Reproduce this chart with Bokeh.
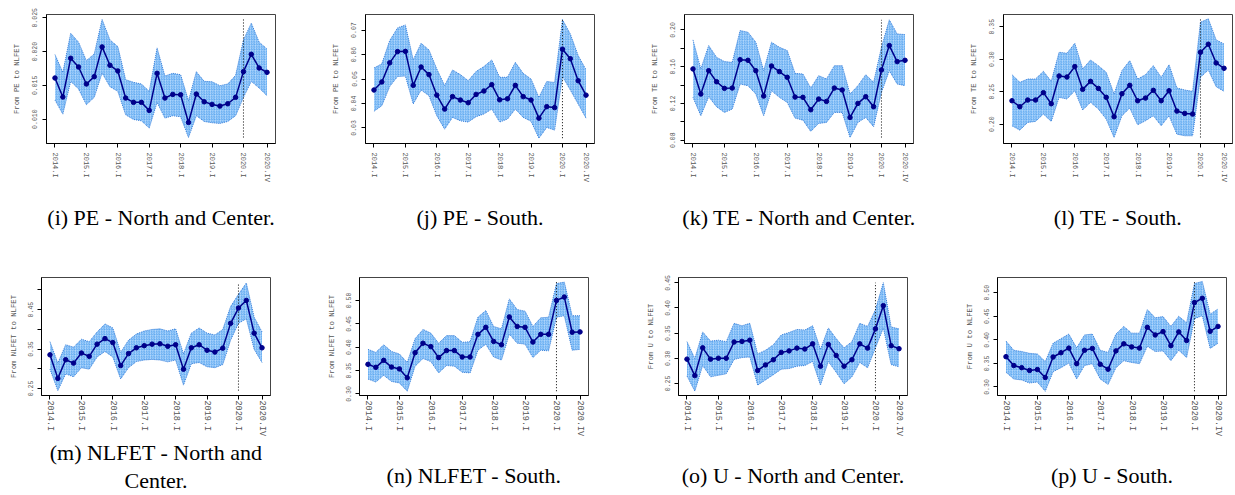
from bokeh.plotting import figure
from bokeh.layouts import column, row
from bokeh.models import FixedTicker, Range1d
from bokeh.embed import file_html
from bokeh.resources import INLINE

# ---------------- data ----------------
quarters = [f"{y}.{q}" for y in range(2014, 2021) for q in ["I", "II", "III", "IV"]]
xtick_labels = ["2014.I", "2015.I", "2016.I", "2017.I", "2018.I", "2019.I", "2020.I", "2020.IV"]
break_quarter = "2020.I"

pe_nc_est = [0.01609, 0.01327, 0.01901, 0.01772, 0.01520, 0.01629, 0.02069, 0.01797, 0.01713, 0.01312, 0.01248, 0.01248, 0.01129, 0.01678, 0.01312, 0.01366, 0.01361, 0.00951, 0.01371, 0.01257, 0.01218, 0.01193, 0.01228, 0.01322, 0.01703, 0.01960, 0.01757, 0.01693]
pe_nc_hi = [0.01955, 0.01693, 0.02272, 0.02139, 0.01866, 0.01965, 0.02475, 0.02173, 0.02074, 0.01584, 0.01545, 0.01520, 0.01411, 0.02054, 0.01639, 0.01678, 0.01658, 0.01272, 0.01703, 0.01559, 0.01554, 0.01495, 0.01520, 0.01649, 0.02173, 0.02421, 0.02139, 0.02040]
pe_nc_lo = [0.01282, 0.01074, 0.01559, 0.01446, 0.01213, 0.01322, 0.01683, 0.01480, 0.01411, 0.01064, 0.00995, 0.00975, 0.00867, 0.01248, 0.01015, 0.01050, 0.01035, 0.00728, 0.01050, 0.00965, 0.00946, 0.00936, 0.00965, 0.01050, 0.01322, 0.01559, 0.01460, 0.01347]

pe_s_est = [0.0455, 0.0488, 0.0566, 0.0612, 0.0613, 0.0474, 0.0549, 0.0518, 0.0434, 0.0377, 0.0428, 0.0414, 0.0403, 0.0437, 0.0451, 0.0477, 0.0415, 0.0419, 0.0474, 0.0428, 0.0414, 0.0340, 0.0387, 0.0383, 0.0622, 0.0583, 0.0493, 0.0434]
pe_s_hi = [0.0545, 0.0562, 0.0657, 0.0709, 0.0721, 0.0578, 0.0646, 0.0619, 0.0541, 0.0473, 0.0537, 0.0518, 0.0493, 0.0531, 0.0551, 0.0578, 0.0507, 0.0507, 0.0568, 0.0523, 0.0500, 0.0425, 0.0490, 0.0486, 0.0743, 0.0684, 0.0596, 0.0538]
pe_s_lo = [0.0368, 0.0391, 0.0469, 0.0510, 0.0512, 0.0398, 0.0455, 0.0432, 0.0350, 0.0295, 0.0343, 0.0329, 0.0324, 0.0346, 0.0357, 0.0377, 0.0324, 0.0336, 0.0377, 0.0343, 0.0327, 0.0258, 0.0302, 0.0291, 0.0510, 0.0455, 0.0398, 0.0340]

te_nc_est = [0.1575, 0.1302, 0.1556, 0.1436, 0.1364, 0.1367, 0.1676, 0.1669, 0.1556, 0.1280, 0.1607, 0.1546, 0.1484, 0.1269, 0.1266, 0.1131, 0.1247, 0.1222, 0.1367, 0.1346, 0.1047, 0.1200, 0.1273, 0.1164, 0.1564, 0.1829, 0.1655, 0.1669]
te_nc_hi = [0.1891, 0.1575, 0.1829, 0.1702, 0.1655, 0.1647, 0.1993, 0.1975, 0.1866, 0.1556, 0.1866, 0.1811, 0.1775, 0.1527, 0.1520, 0.1367, 0.1502, 0.1466, 0.1611, 0.1611, 0.1302, 0.1393, 0.1513, 0.1429, 0.1811, 0.2109, 0.1956, 0.1949]
te_nc_lo = [0.1266, 0.1066, 0.1273, 0.1164, 0.1102, 0.1138, 0.1411, 0.1393, 0.1302, 0.1066, 0.1338, 0.1266, 0.1211, 0.1040, 0.1018, 0.0895, 0.0982, 0.0993, 0.1102, 0.1102, 0.0829, 0.0993, 0.1047, 0.0946, 0.1320, 0.1556, 0.1411, 0.1393]

te_s_est = [0.2361, 0.2269, 0.2372, 0.2372, 0.2485, 0.2315, 0.2742, 0.2726, 0.2886, 0.2536, 0.2659, 0.2551, 0.2413, 0.2115, 0.2469, 0.2598, 0.2361, 0.2402, 0.2521, 0.2361, 0.2515, 0.2202, 0.2166, 0.2156, 0.3107, 0.3230, 0.2942, 0.2860]
te_s_hi = [0.2762, 0.2644, 0.2695, 0.2695, 0.2814, 0.2659, 0.3107, 0.3091, 0.3245, 0.2850, 0.2988, 0.2901, 0.2798, 0.2464, 0.2824, 0.2978, 0.2695, 0.2762, 0.2901, 0.2721, 0.2916, 0.2557, 0.2526, 0.2505, 0.3569, 0.3621, 0.3297, 0.3235]
te_s_lo = [0.1976, 0.1909, 0.2027, 0.2043, 0.2156, 0.2043, 0.2413, 0.2387, 0.2515, 0.2217, 0.2336, 0.2233, 0.2079, 0.1796, 0.2130, 0.2248, 0.1991, 0.2053, 0.2130, 0.1976, 0.2130, 0.1847, 0.1822, 0.1822, 0.2721, 0.2834, 0.2577, 0.2505]

nlfet_nc_est = [0.3353, 0.2756, 0.3229, 0.3143, 0.3399, 0.3314, 0.3624, 0.3764, 0.3663, 0.3081, 0.3384, 0.3531, 0.3585, 0.3624, 0.3632, 0.3570, 0.3609, 0.2988, 0.3531, 0.3609, 0.3469, 0.3423, 0.3523, 0.4151, 0.4539, 0.4732, 0.3903, 0.3531]
nlfet_nc_hi = [0.3686, 0.3143, 0.3609, 0.3547, 0.3748, 0.3686, 0.3934, 0.4136, 0.4035, 0.3415, 0.3725, 0.3880, 0.3957, 0.3996, 0.4012, 0.3957, 0.4012, 0.3376, 0.3903, 0.4035, 0.3903, 0.3857, 0.3996, 0.4577, 0.4887, 0.5174, 0.4306, 0.3934]
nlfet_nc_lo = [0.2989, 0.2446, 0.2872, 0.2795, 0.3027, 0.2989, 0.3299, 0.3438, 0.3299, 0.2741, 0.3027, 0.3182, 0.3221, 0.3237, 0.3221, 0.3175, 0.3221, 0.2586, 0.3128, 0.3159, 0.3051, 0.3027, 0.3105, 0.3725, 0.4151, 0.4267, 0.3492, 0.3159]

nlfet_s_est = [0.3634, 0.3569, 0.3719, 0.3575, 0.3536, 0.3346, 0.3882, 0.4085, 0.4013, 0.3778, 0.3928, 0.3928, 0.3791, 0.3791, 0.4275, 0.4425, 0.4124, 0.4052, 0.4647, 0.4444, 0.4425, 0.4111, 0.4275, 0.4275, 0.5000, 0.5072, 0.4320, 0.4327]
nlfet_s_hi = [0.3954, 0.3889, 0.4052, 0.3909, 0.3856, 0.3673, 0.4183, 0.4379, 0.4301, 0.4085, 0.4248, 0.4248, 0.4105, 0.4118, 0.4641, 0.4784, 0.4444, 0.4392, 0.5033, 0.4804, 0.4771, 0.4444, 0.4628, 0.4641, 0.5360, 0.5392, 0.4673, 0.4673]
nlfet_s_lo = [0.3320, 0.3255, 0.3399, 0.3268, 0.3235, 0.3059, 0.3595, 0.3758, 0.3693, 0.3451, 0.3608, 0.3595, 0.3464, 0.3451, 0.3935, 0.4065, 0.3791, 0.3726, 0.4281, 0.4085, 0.4065, 0.3778, 0.3935, 0.3922, 0.4641, 0.4673, 0.3935, 0.3954]

u_nc_est = [0.2983, 0.2655, 0.3208, 0.2983, 0.3001, 0.3001, 0.3324, 0.3336, 0.3360, 0.2758, 0.2868, 0.2971, 0.3117, 0.3147, 0.3202, 0.3184, 0.3287, 0.2843, 0.3275, 0.3056, 0.2843, 0.2971, 0.3287, 0.3202, 0.3585, 0.4047, 0.3251, 0.3190]
u_nc_hi = [0.3330, 0.2995, 0.3524, 0.3342, 0.3360, 0.3330, 0.3695, 0.3646, 0.3695, 0.3087, 0.3160, 0.3269, 0.3464, 0.3512, 0.3573, 0.3561, 0.3646, 0.3178, 0.3603, 0.3391, 0.3208, 0.3330, 0.3695, 0.3634, 0.3968, 0.4503, 0.3622, 0.3585]
u_nc_lo = [0.2649, 0.2345, 0.2856, 0.2631, 0.2661, 0.2691, 0.2977, 0.3014, 0.3026, 0.2466, 0.2570, 0.2673, 0.2783, 0.2795, 0.2843, 0.2856, 0.2935, 0.2466, 0.2935, 0.2722, 0.2491, 0.2631, 0.2916, 0.2813, 0.3208, 0.3603, 0.2874, 0.2831]

u_s_est = [0.3643, 0.3455, 0.3409, 0.3351, 0.3370, 0.3201, 0.3636, 0.3727, 0.3825, 0.3494, 0.3779, 0.3818, 0.3481, 0.3377, 0.3766, 0.3916, 0.3851, 0.3825, 0.4266, 0.4104, 0.4175, 0.3877, 0.4169, 0.3987, 0.4792, 0.4883, 0.4182, 0.4286]
u_s_hi = [0.3974, 0.3779, 0.3753, 0.3714, 0.3701, 0.3539, 0.3929, 0.4026, 0.4123, 0.3831, 0.4104, 0.4123, 0.3779, 0.3734, 0.4123, 0.4286, 0.4143, 0.4143, 0.4643, 0.4468, 0.4494, 0.4286, 0.4500, 0.4364, 0.5195, 0.5240, 0.4546, 0.4656]
u_s_lo = [0.3312, 0.3169, 0.3149, 0.3084, 0.3104, 0.2909, 0.3325, 0.3409, 0.3507, 0.3169, 0.3455, 0.3494, 0.3169, 0.3053, 0.3409, 0.3558, 0.3520, 0.3494, 0.3864, 0.3753, 0.3766, 0.3558, 0.3779, 0.3623, 0.4448, 0.4513, 0.3818, 0.3929]

ylabels = ["From PE to NLFET", "From PE to NLFET", "From TE to NLFET", "From TE to NLFET",
           "From NLFET to NLFET", "From NLFET to NLFET", "From U to NLFET", "From U to NLFET"]
captions = ["(i) PE - North and Center.", "(j) PE - South.", "(k) TE - North and Center.", "(l) TE - South.",
            "(m) NLFET - North and\nCenter.", "(n) NLFET - South.", "(o) U - North and Center.", "(p) U - South."]

yticks_i = [0.010, 0.015, 0.020, 0.025]
ylab_i = ["0.010", "0.015", "0.020", "0.025"]
yticks_j = [0.03, 0.04, 0.05, 0.06, 0.07]
ylab_j = ["0.03", "0.04", "0.05", "0.06", "0.07"]
yticks_k = [0.08, 0.10, 0.12, 0.14, 0.16, 0.18, 0.20]
ylab_k = ["0.08", "", "0.12", "", "0.16", "", "0.20"]
yticks_l = [0.20, 0.25, 0.30, 0.35]
ylab_l = ["0.20", "0.25", "0.30", "0.35"]
yticks_m = [0.25, 0.30, 0.35, 0.40, 0.45, 0.50]
ylab_m = ["0.25", "", "0.35", "", "0.45", ""]
yticks_n = [0.30, 0.35, 0.40, 0.45, 0.50]
ylab_n = ["0.30", "0.35", "0.40", "0.45", "0.50"]
yticks_o = [0.25, 0.30, 0.35, 0.40, 0.45]
ylab_o = ["0.25", "0.30", "0.35", "0.40", "0.45"]
yticks_p = [0.30, 0.35, 0.40, 0.45, 0.50]
ylab_p = ["0.30", "0.35", "0.40", "0.45", "0.50"]

# ---------------- styling / layout ----------------
yranges = [(0.00639, 0.02549), (0.02363, 0.07637), (0.07637, 0.21673), (0.17033, 0.36873),
           (0.23220, 0.53135), (0.29673, 0.54902), (0.22597, 0.46066), (0.28188, 0.53240)]

BAND_FILL = "#b3d8fd"
BAND_HATCH = "#55a3ee"
BAND_EDGE = "#3a7fd8"
LINE_COL = "#00008b"
TICK_COL = "#555555"
MONO = "Liberation Mono"
SERIF = "Liberation Serif"

FW = 229


def make_panel(k, est, lo, hi, yticks, ylabs):
    r = k // 4
    c = k % 4
    if r == 0:
        H, top, fh = 255, 14, 129
        left = 46
        xfs, xstand, ystand, alstand = "7px", 5, 5, 9
        cap_stand = 20
    else:
        H, top, fh = 240, 22, 128
        left = 41 if c == 0 else 40
        xfs, xstand, ystand, alstand = "8.5px", 1, 4, 8
        cap_stand = 1 if "\n" in captions[k] else 24
    W = 319 if c < 3 else left + FW + (2 if r == 0 else 3)
    p = figure(width=W, height=H, output_backend="svg", toolbar_location=None, title=None,
               min_border_left=left, min_border_right=W - left - FW,
               min_border_top=top, min_border_bottom=H - top - fh,
               x_range=Range1d(-1.08, len(quarters) - 1 + 1.08),
               y_range=Range1d(*yranges[k]))
    x = list(range(len(quarters)))
    p.varea(x=x, y1=lo, y2=hi, fill_color=BAND_FILL, hatch_pattern="/",
            hatch_color=BAND_HATCH, hatch_scale=2.5, hatch_weight=0.8)
    p.line(x, hi, line_color=BAND_EDGE, line_width=1, line_dash="1 1")
    p.line(x, lo, line_color=BAND_EDGE, line_width=1, line_dash="1 1")
    xb = quarters.index(break_quarter)
    p.segment(x0=[xb], y0=[min(lo)], x1=[xb], y1=[max(hi)], line_color="black",
              line_width=1, line_dash="1 2")
    p.line(x, est, line_color=LINE_COL, line_width=1.5)
    p.scatter(x, est, size=4.5, fill_color=LINE_COL, line_color=LINE_COL)

    p.xgrid.visible = False
    p.ygrid.visible = False
    p.outline_line_color = "#444444"
    p.outline_line_width = 1
    p.background_fill_color = "white"
    p.border_fill_color = "white"

    xpos = [quarters.index(l) for l in xtick_labels]
    p.xaxis.ticker = FixedTicker(ticks=xpos)
    p.xaxis.major_label_overrides = {xp: l for xp, l in zip(xpos, xtick_labels)}
    p.xaxis.major_label_orientation = "vertical"
    p.xaxis.major_label_text_font = MONO
    p.xaxis.major_label_text_font_size = xfs
    p.xaxis.major_label_text_color = TICK_COL
    p.xaxis.major_label_standoff = xstand
    # caption of the sub-figure, set as the x-axis label under the tick labels
    p.xaxis.axis_label = captions[k]
    p.xaxis.axis_label_text_font = SERIF
    p.xaxis.axis_label_text_font_size = "22px"
    p.xaxis.axis_label_text_font_style = "normal"
    p.xaxis.axis_label_text_color = "black"
    p.xaxis.axis_label_text_line_height = 1.1
    p.xaxis.axis_label_standoff = cap_stand

    p.yaxis.ticker = FixedTicker(ticks=yticks)
    p.yaxis.major_label_overrides = {t: l for t, l in zip(yticks, ylabs)}
    p.yaxis.major_label_orientation = "vertical"
    p.yaxis.major_label_text_font = MONO
    p.yaxis.major_label_text_font_size = "6.5px"
    p.yaxis.major_label_text_color = TICK_COL
    p.yaxis.major_label_standoff = ystand
    p.yaxis.axis_label = ylabels[k]
    p.yaxis.axis_label_text_font = MONO
    p.yaxis.axis_label_text_font_size = "7.3px"
    p.yaxis.axis_label_text_font_style = "normal"
    p.yaxis.axis_label_text_color = TICK_COL
    p.yaxis.axis_label_standoff = alstand

    for ax in (p.xaxis, p.yaxis):
        ax.axis_line_color = "black"
        ax.axis_line_width = 1
        ax.major_tick_in = 0
        ax.major_tick_out = 4
        ax.major_tick_line_color = "black"
        ax.minor_tick_in = 0
        ax.minor_tick_out = 0
    return p


panels = [
    (pe_nc_est, pe_nc_lo, pe_nc_hi, yticks_i, ylab_i),
    (pe_s_est, pe_s_lo, pe_s_hi, yticks_j, ylab_j),
    (te_nc_est, te_nc_lo, te_nc_hi, yticks_k, ylab_k),
    (te_s_est, te_s_lo, te_s_hi, yticks_l, ylab_l),
    (nlfet_nc_est, nlfet_nc_lo, nlfet_nc_hi, yticks_m, ylab_m),
    (nlfet_s_est, nlfet_s_lo, nlfet_s_hi, yticks_n, ylab_n),
    (u_nc_est, u_nc_lo, u_nc_hi, yticks_o, ylab_o),
    (u_s_est, u_s_lo, u_s_hi, yticks_p, ylab_p),
]

figs = [make_panel(k, *args) for k, args in enumerate(panels)]
layout = column(row(*figs[:4]), row(*figs[4:]))

open("out.html", "w").write(file_html(layout, INLINE))
